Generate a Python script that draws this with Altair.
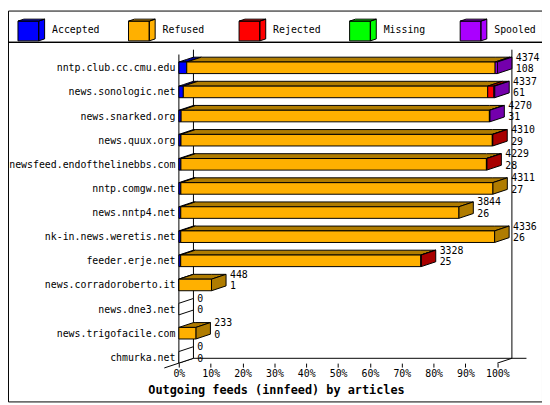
import altair as alt
import pandas as pd

# ---------------- data ----------------
hosts = ["nntp.club.cc.cmu.edu", "news.sonologic.net", "news.snarked.org", "news.quux.org",
         "newsfeed.endofthelinebbs.com", "nntp.comgw.net", "news.nntp4.net",
         "nk-in.news.weretis.net", "feeder.erje.net", "news.corradoroberto.it",
         "news.dne3.net", "news.trigofacile.com", "chmurka.net"]
offered = [4374, 4337, 4270, 4310, 4229, 4311, 3844, 4336, 3328, 448, 0, 233, 0]
accepted = [108, 61, 31, 29, 28, 27, 26, 26, 25, 1, 0, 0, 0]
refused = [4236, 4181, 4234, 4276, 4196, 4284, 3818, 4310, 3298, 447, 0, 233, 0]
rejected = [0, 85, 0, 5, 5, 0, 0, 0, 5, 0, 0, 0, 0]
missing = [0, 0, 0, 0, 0, 0, 0, 0, 0, 0, 0, 0, 0]
spooled = [30, 10, 5, 0, 0, 0, 0, 0, 0, 0, 0, 0, 0]

series = ["Accepted", "Refused", "Rejected", "Missing", "Spooled"]
tick_values = [0, 10, 20, 30, 40, 50, 60, 70, 80, 90, 100]
title_text = "Outgoing feeds (innfeed) by articles"

# ---------------- style / layout ----------------
front_colors = ["#0000FF", "#FFB000", "#FF0000", "#00FF00", "#AA00FF"]
dark_colors = ["#0000A8", "#B07C00", "#A80000", "#00A800", "#7400AC"]
FONT = "DejaVu Sans Mono"

W, H = 541, 396
REF_W, REF_H = 550, 405
SX, SY = W / REF_W, H / REF_H
X0_REF, PX_PER_PCT = 176, 3.28
ROW0_REF, ROW_STEP = 59.3, 25
DX = 15 / PX_PER_PCT          # 3D depth in percent units
DY = 5 / ROW_STEP             # 3D depth in row units
HALF = 6 / ROW_STEP           # half height of a bar's front face
GAP = 4 / PX_PER_PCT

x_domain = [-X0_REF / PX_PER_PCT, (REF_W - X0_REF) / PX_PER_PCT]
y_domain = [-ROW0_REF / ROW_STEP, (REF_H - ROW0_REF) / ROW_STEP]
n = len(hosts)
base = max(offered)

# ---------------- tables built from the arrays ----------------
fronts, tops, sides, labels = [], [], [], []
for i in range(n):
    vals = [accepted[i], refused[i], rejected[i], missing[i], spooled[i]]
    cum = 0
    last = "none"
    T = i - HALF
    for k, (s, v) in enumerate(zip(series, vals)):
        if v <= 0:
            continue
        x0 = cum / base * 100
        cum += v
        x1 = cum / base * 100
        last = s
        fronts.append(dict(x=x0, x2=x1, y=i - HALF, y2=i + HALF, s=s))
        for x in sorted({x0, x1, x0 + DX, x1 + DX}):
            lo = T if x <= x1 else T - DY * (x - x1) / DX
            up = T - DY * min(1.0, (x - x0) / DX)
            tops.append(dict(poly=f"t{i:02d}_{k}", x=x, y=lo, y2=up, s=s))
    end = cum / base * 100
    sides.append(dict(poly=f"s{i:02d}", x=end, y=i + HALF, y2=T, s=last))
    sides.append(dict(poly=f"s{i:02d}", x=end + DX, y=i + HALF - DY, y2=T - DY, s=last))
    labels.append(dict(x=end + DX + GAP, y=i - HALF - 0.18, t=str(offered[i])))
    labels.append(dict(x=end + DX + GAP, y=i + HALF - 0.18, t=str(accepted[i])))

last_row = n - 1
frame = pd.DataFrame([
    dict(x=0, x2=0, y=-HALF - 0.31, y2=last_row + HALF),
    dict(x=DX, x2=DX, y=-HALF - 0.31 - DY, y2=last_row + HALF - DY),
    dict(x=100 + DX, x2=100 + DX, y=-HALF - 0.31 - DY, y2=last_row + HALF - DY),
    dict(x=DX, x2=100 + DX + 15 / PX_PER_PCT, y=last_row + HALF - DY, y2=last_row + HALF - DY),
    dict(x=-DX, x2=DX, y=last_row + HALF + DY, y2=last_row + HALF - DY),
    dict(x=100, x2=100 + DX, y=last_row + HALF, y2=last_row + HALF - DY),
])

df_front = pd.DataFrame(fronts)
df_top = pd.DataFrame(tops)
df_side = pd.DataFrame(sides)
df_lab = pd.DataFrame(labels)

# ---------------- shared encodings ----------------
host_js = "[" + ",".join("'" + h + "'" for h in hosts) + "]"
x_axis_offset = -(H - (ROW0_REF + (last_row + HALF) * ROW_STEP) * SY)
y_axis_offset = -X0_REF * SX

X = alt.X("x:Q", scale=alt.Scale(domain=x_domain, nice=False, zero=False),
          axis=alt.Axis(values=tick_values, labelExpr="datum.value + '%'", grid=False,
                        domain=False, ticks=True, tickSize=4, tickColor="black",
                        labelPadding=2, labelFont=FONT, labelFontSize=10, labelColor="black",
                        labelFlush=False, labelOverlap=False, offset=x_axis_offset,
                        title=title_text, titleFont=FONT, titleFontSize=12,
                        titleFontWeight="bold", titleColor="black",
                        titleX=276 * SX, titleY=27, titleAlign="center",
                        titleBaseline="middle"))
Y = alt.Y("y:Q", stack=None,
          scale=alt.Scale(domain=y_domain, reverse=True, nice=False, zero=False),
          axis=alt.Axis(values=list(range(n)), labelExpr=host_js + "[datum.value]",
                        grid=False, domain=False, ticks=False, labelPadding=4,
                        labelFont=FONT, labelFontSize=10, labelColor="black",
                        labelOverlap=False, labelFlush=False, offset=y_axis_offset,
                        title=None))

dark_scale = alt.Scale(domain=series + ["none"], range=dark_colors + ["white"])

cube = ("M-1,-0.667 L0.556,-0.667 L0.556,0.815 L-1,0.815 Z "
        "M-1,-0.667 L-0.556,-0.815 L1,-0.815 L0.556,-0.667 Z "
        "M0.556,-0.667 L1,-0.815 L1,0.667 L0.556,0.815 Z")

frame_layer = alt.Chart(frame).mark_rule(color="black", strokeWidth=1).encode(
    x=X, x2="x2:Q", y=Y, y2="y2:Q")

sep_layer = alt.Chart(frame).mark_rule(color="black", strokeWidth=1).encode(
    x=alt.value(0), x2=alt.value(W), y=alt.value(33 * SY))

top_layer = alt.Chart(df_top).mark_area(stroke="black", strokeWidth=1, orient="vertical",
                                        interpolate="linear").encode(
    x=X, y=Y, y2="y2:Q", detail="poly:N",
    fill=alt.Fill("s:N", scale=dark_scale, legend=None))

side_layer = alt.Chart(df_side).mark_area(stroke="black", strokeWidth=1, orient="vertical",
                                          interpolate="linear").encode(
    x=X, y=Y, y2="y2:Q", detail="poly:N",
    fill=alt.Fill("s:N", scale=dark_scale, legend=None))

front_layer = alt.Chart(df_front).mark_rect(stroke="black", strokeWidth=1).encode(
    x=X, x2="x2:Q", y=Y, y2="y2:Q",
    fill=alt.Fill("s:N", scale=alt.Scale(domain=series, range=front_colors),
                  legend=alt.Legend(orient="none", legendX=9.6, legendY=5.2,
                                    direction="horizontal", columns=5, title=None,
                                    symbolType=cube, symbolSize=729,
                                    symbolStrokeColor="black", symbolStrokeWidth=1,
                                    labelFont=FONT, labelFontSize=10, labelColor="black",
                                    labelOffset=7, gridAlign="all", columnPadding=26,
                                    padding=0)))

text_layer = alt.Chart(df_lab).mark_text(align="left", baseline="middle", font=FONT,
                                         fontSize=10, color="black").encode(
    x=X, y=Y, text="t:N")

chart = alt.layer(frame_layer, sep_layer, top_layer, side_layer, front_layer, text_layer
                  ).resolve_scale(fill="independent").properties(
    width=W, height=H, autosize=alt.AutoSizeParams(type="none"), padding=0,
    background="white"
).configure_view(stroke="black", strokeWidth=1)

chart.save("out.html", embed_options={"renderer": "svg", "actions": False})
